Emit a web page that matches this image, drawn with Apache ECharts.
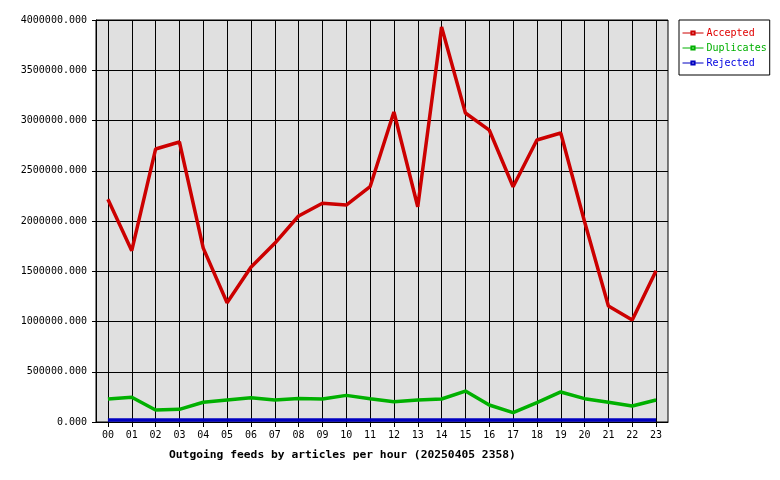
<!DOCTYPE html>
<html>
<head>
<meta charset="utf-8">
<script src="https://cdn.jsdelivr.net/npm/echarts@6/dist/echarts.min.js"></script>
<style>html,body{margin:0;padding:0;background:#fff;}#c{width:780px;height:480px;}</style>
</head>
<body>
<div id="c"></div>
<script>
var hours = ['00','01','02','03','04','05','06','07','08','09','10','11','12','13','14','15','16','17','18','19','20','21','22','23'];
var accepted = [2216000,1705000,2716000,2786000,1730000,1187000,1539000,1778000,2050000,2176000,2159000,2341000,3085000,2142000,3930000,3075000,2905000,2341000,2806000,2876000,1993000,1154000,1015000,1506000];
var duplicates = [229000,246000,119000,126000,196000,219000,242000,219000,235000,229000,265000,232000,202000,219000,229000,308000,169000,93000,192000,299000,232000,196000,159000,219000];
var rejected = [20000,20000,20000,20000,20000,20000,20000,20000,20000,20000,20000,20000,20000,20000,20000,20000,20000,20000,20000,20000,20000,20000,20000,20000];
var yTicks = {min: 0, max: 4000000, interval: 500000};
var titleText = 'Outgoing feeds by articles per hour (20250405 2358)';

var mono = 'DejaVu Sans Mono';
var chart = echarts.init(document.getElementById('c'), null, {renderer: 'canvas'});
chart.setOption({
  animation: false,
  backgroundColor: '#ffffff',
  title: {
    text: titleText, left: 164, top: 445,
    textStyle: {fontFamily: mono, fontSize: 11.3, fontWeight: 'bold', color: '#000'}
  },
  legend: {
    orient: 'vertical', left: 679, top: 20,
    backgroundColor: '#ffffff', borderColor: '#000', borderWidth: 1, borderRadius: 0,
    padding: [8, 3, 7, 3], itemGap: 5, itemWidth: 21, itemHeight: 4,
    lineStyle: {width: 1},
    textStyle: {fontFamily: mono, fontSize: 10, padding: [0, 0, 0, -2]},
    data: [
      {name: 'Accepted', textStyle: {color: '#e00000'}},
      {name: 'Duplicates', textStyle: {color: '#00b000'}},
      {name: 'Rejected', textStyle: {color: '#0000e0'}}
    ]
  },
  grid: {left: 96, right: 112, top: 20, bottom: 58, show: true, backgroundColor: '#e0e0e0', borderColor: '#000', borderWidth: 1},
  xAxis: {
    type: 'category', data: hours, boundaryGap: true,
    axisLine: {lineStyle: {color: '#000', width: 1}},
    axisTick: {show: true, alignWithLabel: true, length: 5, lineStyle: {color: '#000'}},
    axisLabel: {fontFamily: mono, fontSize: 10, color: '#000', margin: 8, interval: 0},
    splitLine: {show: true, alignWithLabel: true, lineStyle: {color: '#000', width: 1}}
  },
  yAxis: {
    type: 'value', min: yTicks.min, max: yTicks.max, interval: yTicks.interval,
    axisLine: {show: true, lineStyle: {color: '#000'}},
    axisTick: {show: true, length: 4, lineStyle: {color: '#000'}},
    axisLabel: {fontFamily: mono, fontSize: 10, color: '#000', margin: 9, formatter: function (v) { return v.toFixed(3); }},
    splitLine: {show: true, lineStyle: {color: '#000', width: 1}}
  },
  series: [
    {name: 'Accepted', type: 'line', data: accepted, symbol: 'emptyRect', showSymbol: false, color: '#cc0000', lineStyle: {width: 3.5, color: '#cc0000'}, z: 4},
    {name: 'Duplicates', type: 'line', data: duplicates, symbol: 'emptyRect', showSymbol: false, color: '#00b000', lineStyle: {width: 3.5, color: '#00b000'}, z: 3},
    {name: 'Rejected', type: 'line', data: rejected, symbol: 'emptyRect', showSymbol: false, color: '#0000c0', lineStyle: {width: 3.5, color: '#0000c0'}, z: 5}
  ]
});
</script>
</body>
</html>
